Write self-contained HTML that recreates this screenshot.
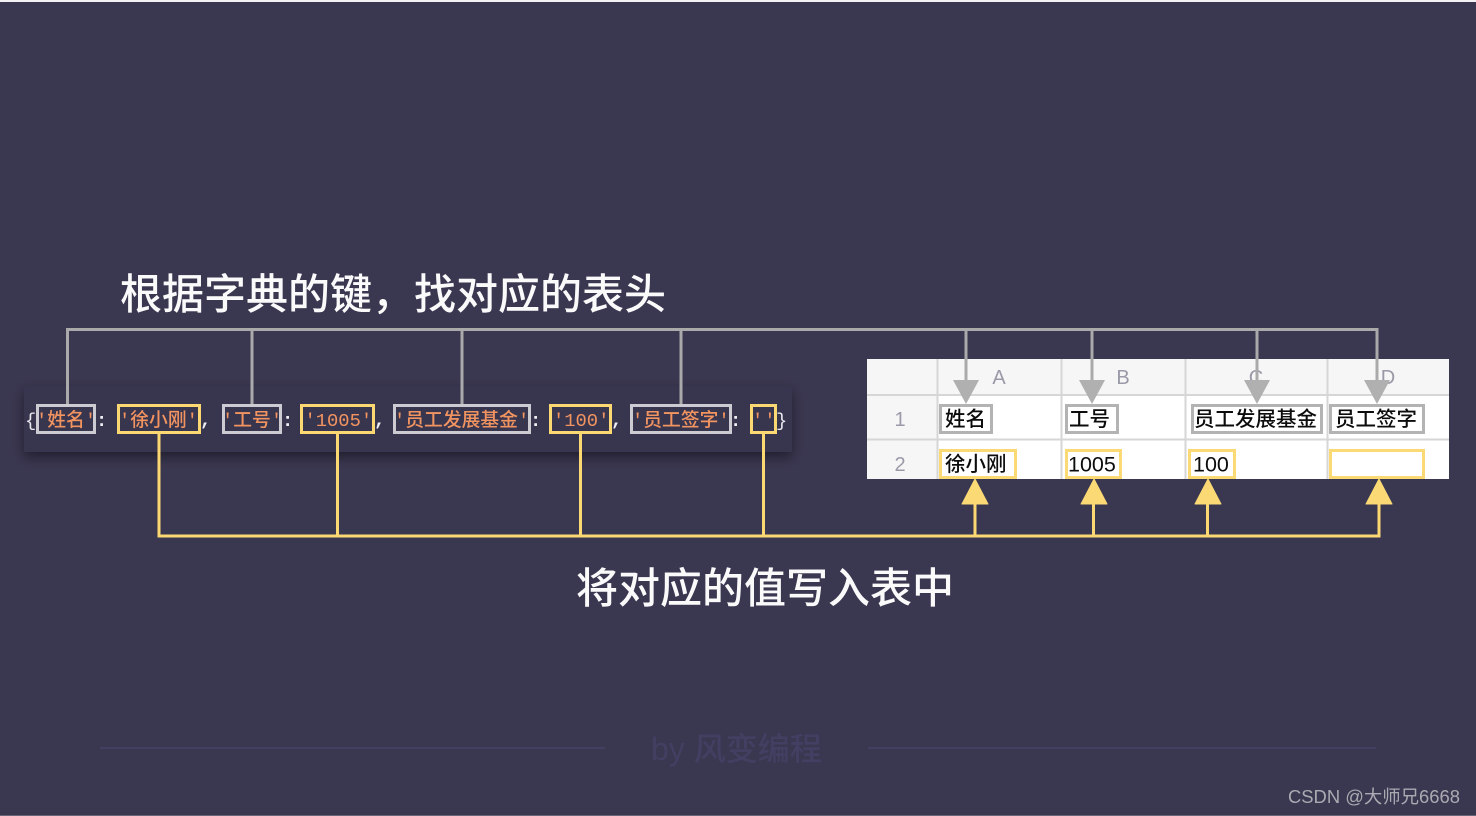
<!DOCTYPE html>
<html><head><meta charset="utf-8">
<style>
html,body{margin:0;padding:0;background:#3a3750;width:1476px;height:816px;overflow:hidden}
svg{display:block}
text{font-family:"Liberation Sans","Noto Sans CJK SC",sans-serif}
.c{font-family:"Liberation Mono","Noto Sans CJK SC",monospace;font-size:18.8px;fill:#f29460;font-weight:500}
.p{font-family:"Liberation Mono","Noto Sans CJK SC",monospace;font-size:18.8px;fill:#f0f0f4;font-weight:700}
.q{font-family:"Liberation Mono","Noto Sans CJK SC",monospace;font-size:18.8px;fill:#e8e8ec;font-weight:400}
.t{font-size:20.5px;fill:#0c0c0c;font-weight:500}
.n{font-size:21.5px;fill:#0c0c0c}
.h{font-size:20px;fill:#9a99a8;text-anchor:middle}
.b{font-size:42px;fill:#fafafa;font-weight:500}
.g{fill:none;stroke:#cbcbd1;stroke-width:3}
.y{fill:none;stroke:#fcd873;stroke-width:3}
.tg{fill:#fff;stroke:#b3b3b3;stroke-width:3}
.ty{fill:#fff;stroke:#fbd975;stroke-width:3}
</style></head>
<body>
<svg width="1476" height="816" viewBox="0 0 1476 816" xmlns="http://www.w3.org/2000/svg">
<defs>
<filter id="s" x="-5%" y="-30%" width="110%" height="170%"><feDropShadow dx="0" dy="5" stdDeviation="6" flood-color="#000" flood-opacity=".45"/></filter>
</defs>
<rect width="1476" height="816" fill="#3a3750"/>
<rect width="1476" height="2" fill="#f2f2f4"/>
<rect y="815" width="1476" height="1" fill="#f2f2f4" opacity=".25"/>

<!-- watermark -->
<rect x="100" y="747" width="505" height="2" fill="#423f60"/>
<rect x="868" y="747" width="508" height="2" fill="#423f60"/>
<text x="651" y="760" font-size="32" fill="#433f62" font-weight="500">by 风变编程</text>
<text x="1288" y="803" font-size="18.400" fill="#aaaab2">CSDN @大师兄6668</text>

<!-- titles -->
<text class="b" x="120" y="309">根据字典的键，找对应的表头</text>
<text class="b" x="576" y="603">将对应的值写入表中</text>

<!-- code panel -->
<rect x="24" y="386" width="768" height="66" fill="#393650" filter="url(#s)"/>

<!-- table -->
<rect x="867" y="359" width="582" height="120" fill="#fff"/>
<rect x="867" y="359" width="582" height="36" fill="#f6f6f6"/>
<rect x="867" y="359" width="70" height="120" fill="#f6f6f6"/>
<g stroke="#d6d6d6" stroke-width="2" fill="none">
<path d="M867 395H1449M867 439.500H1449"/>
<path d="M937.500 359V479M1061.500 359V479M1185.500 359V479M1327.500 359V479"/>
</g>
<text class="h" x="999" y="384">A</text>
<text class="h" x="1123" y="384">B</text>
<text class="h" x="1256" y="384">C</text>
<text class="h" x="1388" y="384">D</text>
<text class="h" x="900" y="426">1</text>
<text class="h" x="900" y="471">2</text>

<!-- table cell highlights -->
<rect class="tg" x="940.500" y="405.500" width="51" height="27"/>
<rect class="tg" x="1066.500" y="405.500" width="51" height="27"/>
<rect class="tg" x="1192.500" y="405.500" width="129" height="27"/>
<rect class="tg" x="1330.500" y="405.500" width="93" height="27"/>
<rect class="ty" x="940.500" y="450.500" width="75" height="27"/>
<rect class="ty" x="1066.500" y="450.500" width="54" height="27"/>
<rect class="ty" x="1189.500" y="450.500" width="45" height="27"/>
<rect class="ty" x="1330.500" y="450.500" width="93" height="27"/>
<text class="t" x="945" y="426">姓名</text>
<text class="t" x="1069" y="426">工号</text>
<text class="t" x="1194" y="426">员工发展基金</text>
<text class="t" x="1335" y="426">员工签字</text>
<text class="t" x="945" y="471">徐小刚</text>
<text class="n" x="1068" y="471.500">1005</text>
<text class="n" x="1193" y="471.500">100</text>

<!-- grey connectors -->
<g fill="none" stroke="#aaaaaa" stroke-width="3">
<path d="M67.500 404V329.500H1377V382"/>
<path d="M252 329.500V404M462 329.500V404M681 329.500V404M966 329.500V382M1092 329.500V382M1257 329.500V382"/>
</g>
<g fill="#b0b0b0">
<path d="M953 380H979L966 404Z"/>
<path d="M1079 380H1105L1092 404Z"/>
<path d="M1244 380H1270L1257 404Z"/>
<path d="M1364 380H1390L1377 404Z"/>
</g>

<!-- yellow connectors -->
<g fill="none" stroke="#fcd873" stroke-width="3">
<path d="M159 433V536H1379V502"/>
<path d="M337.500 433V536M580.500 433V536M763.500 433V536M975 536V502M1093.500 536V502M1207.500 536V502"/>
</g>
<g fill="#fbd975" stroke="#fbd975" stroke-width="1" stroke-linejoin="round">
<path d="M962 504H988L975 479Z"/>
<path d="M1081 504H1107L1094 479Z"/>
<path d="M1195 504H1221L1208 479Z"/>
<path d="M1366 504H1392L1379 479Z"/>
</g>

<!-- code boxes -->
<rect class="g" x="37.500" y="405.500" width="57" height="27"/>
<rect class="y" x="118.500" y="405.500" width="81" height="27"/>
<rect class="g" x="223.500" y="405.500" width="57" height="27"/>
<rect class="y" x="301.500" y="405.500" width="72" height="27"/>
<rect class="g" x="394.500" y="405.500" width="135" height="27"/>
<rect class="y" x="550.500" y="405.500" width="60" height="27"/>
<rect class="g" x="631.500" y="405.500" width="99" height="27"/>
<rect class="y" x="751.500" y="405.500" width="24" height="27"/>

<text class="q" x="25" y="426">{</text>
<text class="p" x="96" y="426">:</text>
<text class="p" x="200" y="425">,</text>
<text class="p" x="282" y="426">:</text>
<text class="p" x="374" y="425">,</text>
<text class="p" x="530" y="426">:</text>
<text class="p" x="611" y="425">,</text>
<text class="p" x="730" y="426">:</text>
<text class="q" x="776" y="426">}</text>

<text class="c" x="36" y="426">'姓名'</text>
<text class="c" x="119" y="426">'徐小刚'</text>
<text class="c" x="222" y="426">'工号'</text>
<text class="c" x="304.500" y="426">'1005'</text>
<text class="c" x="394" y="426">'员工发展基金'</text>
<text class="c" x="553" y="426">'100'</text>
<text class="c" x="632" y="426">'员工签字'</text>
<text class="c" x="752" y="426" letter-spacing="1">''</text>
</svg>
</body></html>
